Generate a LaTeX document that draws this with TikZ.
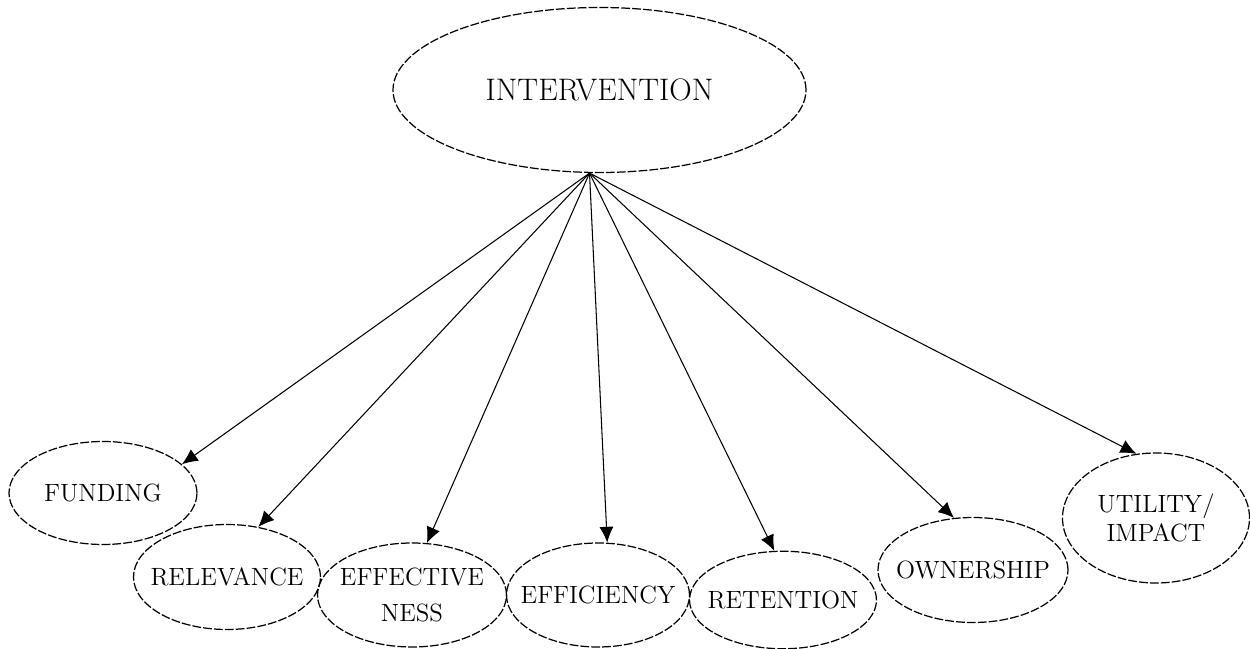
\documentclass[tikz,border=0pt]{standalone}
\usepackage{tikz}
\usetikzlibrary{arrows.meta, shapes.geometric, calc}

\tikzset{
    oval/.style={ellipse, draw, line width=0.7pt, dash pattern=on 5pt off 1.2pt,
        inner xsep=-14pt, inner ysep=0pt, align=center,
        font=\fontsize{14.2}{16.5}\selectfont},
    link/.style={-{Latex[length=9pt,width=8pt]}, line width=0.6pt}
}

\begin{document}
\begin{tikzpicture}
    \useasboundingbox (0,0) rectangle (25,12.96);
    \node[oval, minimum width=8.26cm, minimum height=3.3cm, font=\fontsize{17.7}{21}\selectfont] at (11.99, 11.16) (intervention) {INTERVENTION};
    \coordinate (apex) at ($(intervention.south) + (-0.2, 0)$);

    \node[oval, minimum width=3.76cm, minimum height=2.06cm] at (2.06, 3.10) (funding) {FUNDING};
    \node[oval, minimum width=3.74cm, minimum height=2.1cm] at (4.54, 1.42) (relevance) {RELEVANCE};
    \node[oval, minimum width=3.78cm, minimum height=2.08cm] at (8.24, 1.06) (effectiveness) {EFFECTIVE\\[4pt]NESS};
    \node[oval, minimum width=3.66cm, minimum height=2.08cm] at (11.96, 1.06) (efficiency) {EFFICIENCY};
    \node[oval, minimum width=3.74cm, minimum height=1.95cm] at (15.66, 0.96) (retention) {RETENTION};
    \node[oval, minimum width=3.8cm, minimum height=2.1cm] at (19.46, 1.56) (ownership) {OWNERSHIP};
    \node[oval, minimum width=3.74cm, minimum height=2.6cm] at (23.12, 2.6) (utility) {UTILITY/\\IMPACT};

    \draw[link] (apex) -- (funding.20);
    \draw[link] (apex) -- (relevance.58);
    \draw[link] (apex) -- (effectiveness.74);
    \draw[link] (apex) -- (efficiency.80);
    \draw[link] (apex) -- (retention.100);
    \draw[link] (apex) -- (ownership.110);
    \draw[link] (apex) -- (utility.107);

\end{tikzpicture}
\end{document}
